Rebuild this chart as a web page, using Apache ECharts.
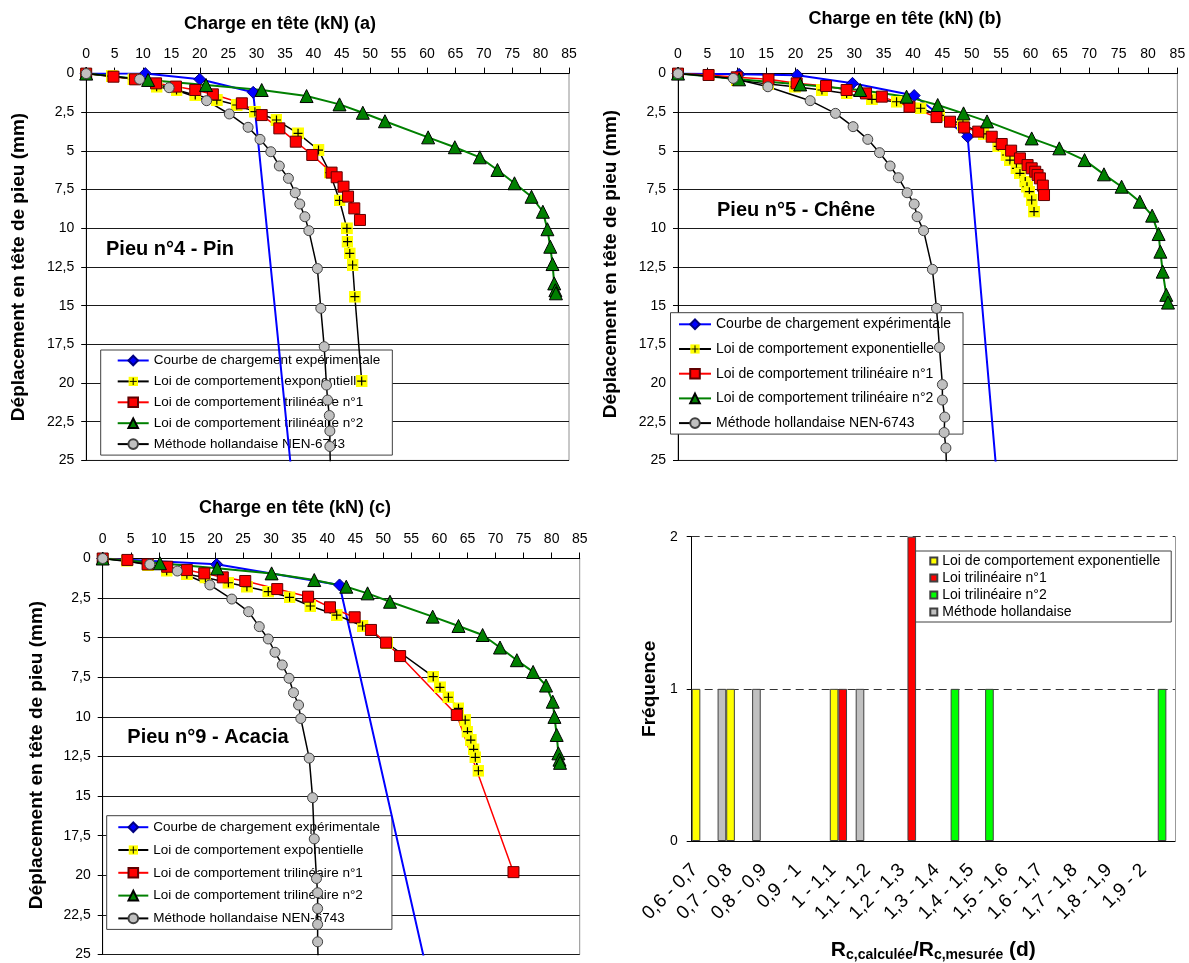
<!DOCTYPE html>
<html><head><meta charset="utf-8">
<script src="https://cdn.jsdelivr.net/npm/echarts/dist/echarts.min.js"></script>
<style>
html,body{margin:0;padding:0;background:#fff;}
.c{position:absolute;left:0;top:0;width:1189px;height:963px;}
</style></head>
<body>
<div id="pa" class="c"></div><div id="pb" class="c"></div><div id="pc" class="c"></div><div id="pd" class="c"></div>
<script>
// ---------------- DATA ----------------
const seriesNames = ['Courbe de chargement expérimentale','Loi de comportement exponentielle','Loi de comportement trilinéaire n°1','Loi de comportement trilinéaire n°2','Méthode hollandaise NEN-6743'];

// Panel (a) Pieu n°4 - Pin : [charge kN, déplacement mm]
const aExperimental = [[0,0],[10.4,0],[20.0,0.37],[29.4,1.21],[36.6,27.5]];
const aExponential = [[0,0],[4.5,0.16],[8.3,0.37],[12.4,0.85],[15.9,1.06],[19.2,1.38],[23.0,1.71],[26.5,2.03],[29.7,2.46],[33.5,3.0],[37.3,3.86],[40.9,4.94],[42.9,6.4],[44.6,8.2],[45.9,10.0],[46.0,10.86],[46.4,11.62],[46.9,12.37],[47.3,14.42],[48.5,19.87]];
const aTrilinear1 = [[0,0],[4.8,0.2],[8.6,0.37],[12.3,0.63],[15.8,0.84],[19.2,1.06],[22.3,1.34],[27.4,1.92],[30.9,2.68],[34.0,3.54],[36.9,4.4],[39.8,5.26],[43.2,6.4],[44.1,6.7],[45.3,7.31],[46.1,7.95],[47.2,8.71],[48.2,9.46]];
const aTrilinear2 = [[0,0],[10.9,0.41],[21.1,0.74],[30.9,1.06],[38.8,1.45],[44.6,1.99],[48.7,2.53],[52.6,3.08],[60.2,4.12],[64.9,4.76],[69.3,5.41],[72.4,6.23],[75.4,7.09],[78.4,7.96],[80.4,8.93],[81.2,10.06],[81.7,11.19],[82.1,12.31],[82.4,13.56],[82.6,14.0],[82.7,14.2]];
const aNEN = [[0,0],[9.4,0.37],[14.6,0.91],[21.2,1.75],[25.2,2.61],[28.5,3.47],[30.6,4.25],[32.5,5.05],[34.0,5.97],[35.6,6.77],[36.8,7.7],[37.6,8.43],[38.5,9.25],[39.2,10.15],[40.7,12.6],[41.3,15.17],[41.9,17.65],[42.3,20.13],[42.5,21.1],[42.8,22.1],[42.9,23.1],[42.9,24.1],[43.0,25.5]];

// Panel (b) Pieu n°5 - Chêne
const bExperimental = [[0,0],[10.4,0.05],[20.3,0.1],[29.7,0.63],[40.2,1.42],[49.3,4.08],[54.6,27.5]];
const bExponential = [[0,0],[5.2,0.1],[10.0,0.42],[15.4,0.68],[19.9,0.85],[24.5,1.06],[28.7,1.28],[33.0,1.66],[37.2,1.82],[41.3,2.24],[44.5,2.7],[48.5,3.3],[52.0,3.9],[54.5,4.7],[55.9,5.26],[56.5,5.59],[57.6,6.12],[58.2,6.45],[59.1,6.98],[59.4,7.31],[59.8,7.63],[60.2,8.17],[60.6,8.92]];
const bTrilinear1 = [[0,0],[5.2,0.09],[10.0,0.24],[15.4,0.37],[20.2,0.63],[25.2,0.8],[28.7,1.06],[32.0,1.28],[34.7,1.49],[39.4,2.14],[44.0,2.81],[46.3,3.11],[48.7,3.48],[51.1,3.75],[53.4,4.08],[55.1,4.55],[56.7,4.98],[58.2,5.48],[59.5,5.91],[60.2,6.12],[60.8,6.34],[61.2,6.55],[61.6,6.77],[62.1,7.24],[62.3,7.85]];
const bTrilinear2 = [[0,0],[10.4,0.37],[20.8,0.7],[31.0,1.06],[38.9,1.49],[44.2,2.03],[48.6,2.57],[52.6,3.09],[60.2,4.19],[64.9,4.83],[69.2,5.59],[72.5,6.51],[75.5,7.31],[78.6,8.28],[80.7,9.18],[81.8,10.37],[82.1,11.51],[82.5,12.8],[83.1,14.3],[83.4,14.8]];
const bNEN = [[0,0],[9.4,0.31],[15.3,0.85],[22.5,1.75],[26.8,2.57],[29.8,3.43],[32.3,4.25],[34.3,5.11],[36.1,5.97],[37.5,6.73],[39.0,7.7],[40.2,8.43],[40.7,9.25],[41.8,10.15],[43.3,12.65],[44.0,15.17],[44.5,17.7],[45.0,20.1],[45.0,21.1],[45.4,22.2],[45.3,23.2],[45.6,24.2],[45.7,25.5]];

// Panel (c) Pieu n°9 - Acacia
const cExperimental = [[0,0],[20.3,0.37],[42.2,1.67],[58.7,27.5]];
const cExponential = [[0,0],[4.3,0.14],[8.1,0.41],[11.4,0.77],[15.0,1.0],[18.3,1.2],[22.4,1.53],[25.7,1.78],[29.5,2.09],[33.3,2.45],[37.0,3.0],[41.7,3.57],[46.3,4.26],[50.7,5.35],[58.9,7.46],[60.1,8.13],[61.6,8.76],[63.4,9.46],[64.6,10.2],[65.0,10.93],[65.6,11.46],[66.1,12.05],[66.4,12.55],[66.95,13.4]];
const cTrilinear1 = [[0,0],[4.4,0.09],[8.0,0.37],[11.5,0.52],[15.0,0.73],[18.1,0.94],[21.4,1.19],[25.4,1.42],[31.1,1.93],[36.6,2.41],[40.5,3.08],[44.9,3.71],[47.8,4.51],[50.5,5.31],[53.0,6.16],[63.1,9.88],[73.2,19.8]];
const cTrilinear2 = [[0,0],[10.2,0.3],[20.4,0.62],[30.1,0.94],[37.7,1.36],[43.4,1.78],[47.2,2.2],[51.2,2.73],[58.8,3.67],[63.4,4.26],[67.7,4.83],[70.8,5.62],[73.8,6.42],[76.7,7.16],[79.0,8.02],[80.2,9.04],[80.5,10.0],[80.9,11.14],[81.2,12.3],[81.4,12.7],[81.5,12.9]];
const cNEN = [[0,0],[8.4,0.37],[13.3,0.79],[19.1,1.67],[23.0,2.56],[26.0,3.36],[27.9,4.3],[29.5,5.08],[30.7,5.92],[32.0,6.72],[33.2,7.56],[34.0,8.47],[34.9,9.25],[35.3,10.1],[36.8,12.6],[37.4,15.1],[37.7,17.7],[38.1,20.2],[38.3,21.1],[38.3,22.1],[38.3,23.1],[38.3,24.2],[38.4,25.5]];

// Panel (d) histogram
const ratioCategories = ['0,6 - 0,7','0,7 - 0,8','0,8 - 0,9','0,9 - 1','1 - 1,1','1,1 - 1,2','1,2 - 1,3','1,3 - 1,4','1,4 - 1,5','1,5 - 1,6','1,6 - 1,7','1,7 - 1,8','1,8 - 1,9','1,9 - 2'];
const histNames = ['Loi de comportement exponentielle','Loi trilinéaire n°1','Loi trilinéaire n°2','Méthode hollandaise'];
const histExponential = [1,1,0,0,1,0,0,0,0,0,0,0,0,0];
const histTrilinear1  = [0,0,0,0,1,0,2,0,0,0,0,0,0,0];
const histTrilinear2  = [0,0,0,0,0,0,0,1,1,0,0,0,0,1];
const histNEN         = [1,1,0,0,1,0,0,0,0,0,0,0,0,0];

// ---------------- STYLE ----------------
const FONT = '"Liberation Sans", Arial, sans-serif';
const plusSvg = "<svg xmlns='http://www.w3.org/2000/svg' width='24' height='24'><rect width='24' height='24' fill='#FFFF00'/><path d='M12 3V21M3 12H21' stroke='#000' stroke-width='2.4'/></svg>";
const plusSymbol = 'image://data:image/svg+xml;charset=utf-8,' + encodeURIComponent(plusSvg);
const lineStyles = [
  {symbol:'diamond', size:12, color:'#0000FF', border:'#000080', line:'#0000FF', lw:2},
  {symbol:plusSymbol, size:12, color:'#FFFF00', border:'#FFFF00', line:'#000000', lw:1.5},
  {symbol:'rect', size:11, color:'#FF0000', border:'#600000', line:'#FF0000', lw:1.5},
  {symbol:'triangle', size:13, color:'#008000', border:'#000000', line:'#008000', lw:2},
  {symbol:'circle', size:10, color:'#C0C0C0', border:'#404040', line:'#000000', lw:1.5}
];

function linePanel(p) {
  const datasets = [p.exp, p.expo, p.t1, p.t2, p.nen];
  return {
    animation:false,
    textStyle:{fontFamily:FONT},
    grid:{left:p.grid[0], top:p.grid[1], width:p.grid[2], height:p.grid[3], show:true, borderColor:'#909090', borderWidth:1},
    xAxis:{type:'value', position:'top', min:0, max:85, interval:5,
      axisLine:{lineStyle:{color:'#000', width:1}},
      axisTick:{length:6, lineStyle:{color:'#000'}},
      axisLabel:{fontSize:14, color:'#000', margin:12, fontFamily:FONT},
      splitLine:{show:false}},
    yAxis:{type:'value', inverse:true, min:0, max:25, interval:2.5,
      axisLine:{lineStyle:{color:'#000', width:1}},
      axisTick:{length:5, lineStyle:{color:'#000'}},
      axisLabel:{fontSize:14, color:'#000', margin:12, fontFamily:FONT, formatter:v=>String(v).replace('.',',')},
      splitLine:{lineStyle:{color:'#1a1a1a', width:1}}},
    legend:{orient:'vertical', left:p.legend[0], top:p.legend[1], padding:p.legend[2], itemGap:p.legend[3], itemWidth:p.legend[4], itemHeight:12,
      backgroundColor:'#fff', borderColor:'#404040', borderWidth:1, z:1,
      textStyle:{fontSize:p.legend[5], color:'#000', fontFamily:FONT}, data:seriesNames},
    graphic:[
      {type:'text', x:p.xTitle[0], y:p.xTitle[1], style:{text:p.xTitleText, font:'bold 18px '+FONT, fill:'#000', align:'center', verticalAlign:'middle'}},
      {type:'text', x:p.yTitle[0], y:p.yTitle[1], rotation:Math.PI/2, style:{text:'Déplacement en tête de pieu (mm)', font:'bold 19px '+FONT, fill:'#000', align:'center', verticalAlign:'middle'}},
      {type:'text', x:p.pile[0], y:p.pile[1], style:{text:p.pileText, font:'bold 20px '+FONT, fill:'#000', align:'center', verticalAlign:'middle'}}
    ],
    series: datasets.map((d,i)=>({
      type:'line', name:seriesNames[i], data:d, clip:true,
      symbol:lineStyles[i].symbol, symbolSize:lineStyles[i].size,
      itemStyle:{color:lineStyles[i].color, borderColor:lineStyles[i].border, borderWidth:1},
      lineStyle:{color:lineStyles[i].line, width:lineStyles[i].lw},
      emphasis:{disabled:true}
    }))
  };
}

echarts.init(document.getElementById('pa')).setOption(linePanel({
  exp:aExperimental, expo:aExponential, t1:aTrilinear1, t2:aTrilinear2, nen:aNEN,
  grid:[86.2,73.6,482.8,386.8],
  legend:[100.7,350,[3.5,12,4,16],6.9,31,13.5],
  xTitle:[280,24], xTitleText:'Charge en tête (kN) (a)',
  yTitle:[19,267], pile:[170,249], pileText:'Pieu n°4 - Pin'
}));
echarts.init(document.getElementById('pb')).setOption(linePanel({
  exp:bExperimental, expo:bExponential, t1:bTrilinear1, t2:bTrilinear2, nen:bNEN,
  grid:[678,73.6,499.4,386.8],
  legend:[670.5,312.7,[4.6,12,4,7.5],10.7,32,14],
  xTitle:[905,19], xTitleText:'Charge en tête (kN) (b)',
  yTitle:[611,264], pile:[796,210], pileText:'Pieu n°5 - Chêne'
}));
echarts.init(document.getElementById('pc')).setOption(linePanel({
  exp:cExperimental, expo:cExponential, t1:cTrilinear1, t2:cTrilinear2, nen:cNEN,
  grid:[102.7,558.5,477,396],
  legend:[106.7,815.7,[4.5,12,4,10.6],8.8,30,13.5],
  xTitle:[295,508], xTitleText:'Charge en tête (kN) (c)',
  yTitle:[37,755], pile:[208,737], pileText:'Pieu n°9 - Acacia'
}));

const histData = [histExponential, histTrilinear1, histTrilinear2, histNEN];
const histColors = ['#FFFF00','#FF0000','#00FF00','#C0C0C0'];
echarts.init(document.getElementById('pd')).setOption({
  animation:false,
  textStyle:{fontFamily:FONT},
  grid:{left:691.7, top:536.7, width:483.3, height:306.6},
  legend:{orient:'vertical', left:912.3, top:551, padding:[3,11,3,17], itemGap:3, itemWidth:7, itemHeight:7, icon:'rect',
    backgroundColor:'#fff', borderColor:'#404040', borderWidth:1, z:1,
    textStyle:{fontSize:14, color:'#000', fontFamily:FONT}, data:histNames},
  xAxis:{type:'category', data:ratioCategories,
    axisLine:{lineStyle:{color:'#000'}},
    axisTick:{length:6, lineStyle:{color:'#000'}},
    axisLabel:{interval:0, rotate:45, fontSize:19, color:'#000', margin:12, padding:[0,20,0,0], fontFamily:FONT},
    name:'{b|R}{s|c,calculée}{b|/R}{s|c,mesurée}{b| (d)}', nameLocation:'middle', nameGap:97,
    nameTextStyle:{rich:{b:{fontSize:21, fontWeight:'bold', color:'#000', fontFamily:FONT}, s:{fontSize:14, fontWeight:'bold', color:'#000', fontFamily:FONT, padding:[10,0,0,0]}}}},
  yAxis:[{type:'value', min:0, max:2, interval:1,
    axisLine:{show:true, lineStyle:{color:'#000'}},
    axisTick:{show:true, length:5, lineStyle:{color:'#000'}},
    axisLabel:{fontSize:14, color:'#000', margin:14, fontFamily:FONT},
    splitLine:{lineStyle:{color:'#333', type:[8,5]}},
    name:'Fréquence', nameLocation:'middle', nameRotate:90, nameGap:32,
    nameTextStyle:{fontSize:19, fontWeight:'bold', color:'#000', fontFamily:FONT}},
   {type:'value', position:'right', min:0, max:2, interval:1,
    axisLine:{show:true, lineStyle:{color:'#999'}}, axisTick:{show:false}, axisLabel:{show:false}, splitLine:{show:false}}],
  series: histData.map((d,i)=>({
    type:'bar', name:histNames[i], data:d.map(v=>v===0?'-':v),
    barGap:'0%', barCategoryGap:'0%',
    itemStyle:{color:histColors[i], borderColor:'#404040', borderWidth:1},
    emphasis:{disabled:true}
  }))
});
</script>
</body></html>
